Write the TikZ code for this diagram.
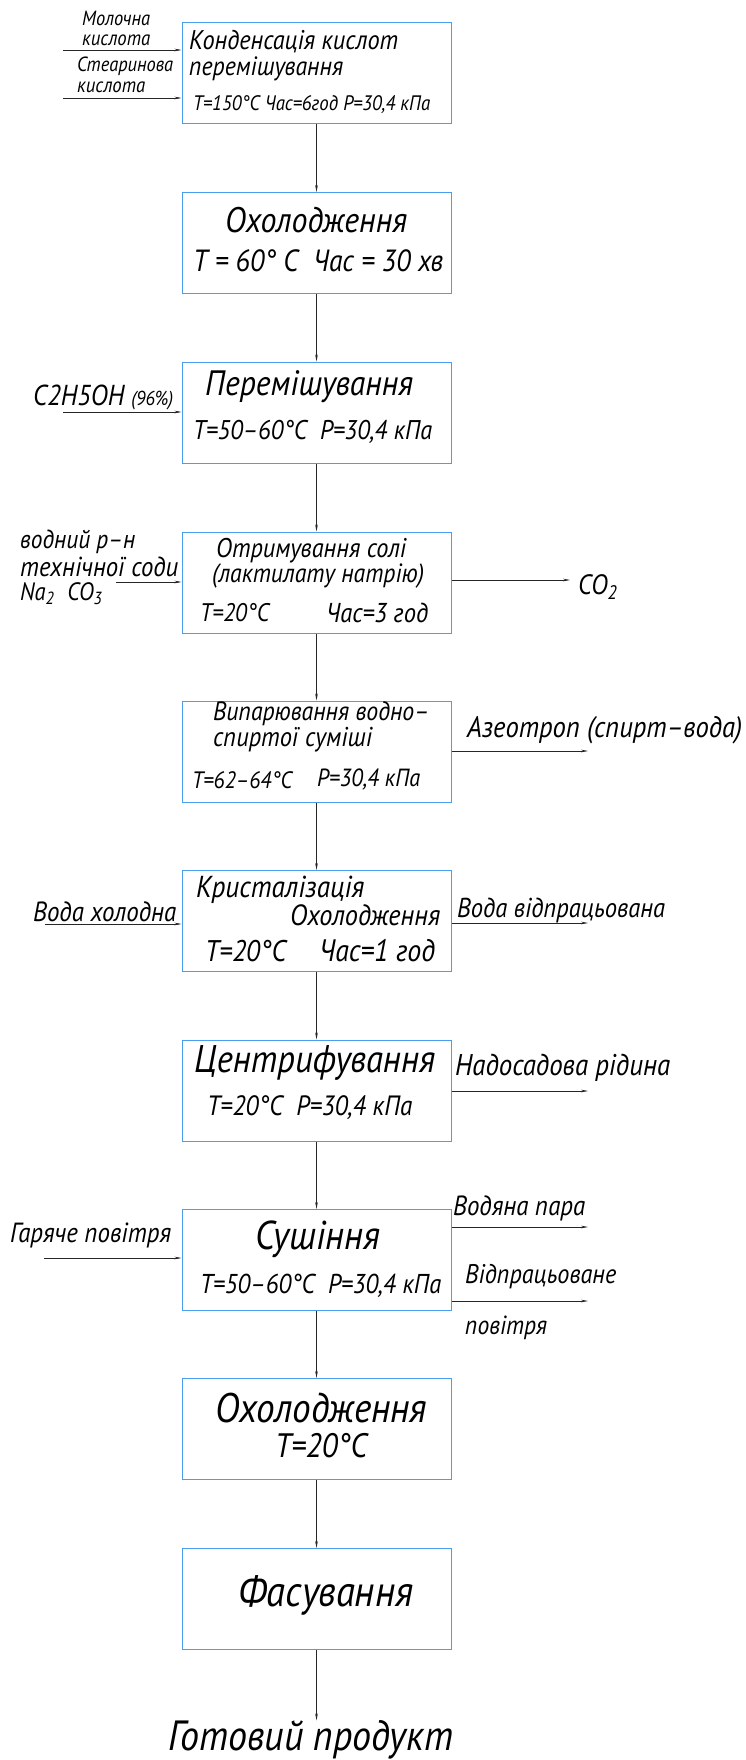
\documentclass[tikz,border=0pt]{standalone}
\usepackage{fontspec}
\setmainfont{PT Sans}[FakeStretch=0.9]
\usepackage{graphicx}
\usetikzlibrary{arrows.meta}
\definecolor{boxblue}{RGB}{74,158,238}
\newcommand{\tw}[2]{\resizebox{#1pt}{!}{\itshape #2}}
\begin{document}
\begin{tikzpicture}[x=1pt,y=-1pt,
  procbox/.style={draw=boxblue,line width=1pt,minimum width=269pt,minimum height=101pt,inner sep=0pt},
  flow/.style={draw=black!85,line width=0.6pt,-{Stealth[length=7pt,width=2.6pt]}},
  lbl/.style={anchor=west,inner sep=0pt,text=black}]
\useasboundingbox (0,0) rectangle (746,1760);

% boxes
\node[procbox] (b1) at (316.5,73) {};
\node[procbox] (b2) at (316.5,243) {};
\node[procbox] (b3) at (316.5,412.5) {};
\node[procbox] (b4) at (316.5,582.5) {};
\node[procbox] (b5) at (316.5,751.5) {};
\node[procbox] (b6) at (316.5,921) {};
\node[procbox] (b7) at (316.5,1090.5) {};
\node[procbox] (b8) at (316.5,1260) {};
\node[procbox] (b9) at (316.5,1429) {};
\node[procbox] (b10) at (316.5,1599) {};

% main flow
\draw[flow] (b1) -- (b2);
\draw[flow] (b2) -- (b3);
\draw[flow] (b3) -- (b4);
\draw[flow] (b4) -- (b5);
\draw[flow] (b5) -- (b6);
\draw[flow] (b6) -- (b7);
\draw[flow] (b7) -- (b8);
\draw[flow] (b8) -- (b9);
\draw[flow] (b9) -- (b10);
\node[lbl] (gp) at (168,1740) {\tw{285}{Готовий продукт}};
\draw[flow] (b10.south) -- (b10.south |- gp.north);

% box 1
\node[lbl] (l1a) at (82,18.5) {\tw{68}{Молочна}};
\node[lbl] (l1b) at (82,40) {\tw{68}{кислота}};
\node[lbl] (l1c) at (77,66.5) {\tw{96}{Стеаринова}};
\node[lbl] (l1d) at (77,87.5) {\tw{68}{кислота}};
\coordinate (i1a) at (63,50);
\coordinate (i1b) at (63,98);
\draw[flow] (i1a) -- (i1a -| b1.west);
\draw[flow] (i1b) -- (i1b -| b1.west);
\node[lbl] (t1a) at (189,42) {\tw{209}{Конденсація кислот}};
\node[lbl] (t1b) at (189,69) {\tw{154}{перемішування}};
\node[lbl] (t1c) at (193,105) {\tw{237}{T=150°C Час=6год P=30,4 кПа}};

% box 2
\node[lbl] (t2a) at (225,220) {\tw{182}{Охолодження}};
\node[lbl] (t2b) at (193,261) {\tw{250}{T = 60° C\ \ Час = 30 хв}};

% box 3
\node[lbl] (l3) at (33,397) {\tw{140}{C2H5OH {\scriptsize (96\%)}}};
\coordinate (i3) at (63,412);
\draw[flow] (i3) -- (i3 -| b3.west);
\node[lbl] (t3a) at (205,387) {\tw{208}{Перемішування}};
\node[lbl] (t3b) at (193,432) {\tw{239}{T=50–60°C\ \ P=30,4 кПа}};

% box 4
\node[lbl] (l4a) at (20,542) {\tw{115}{водний р–н}};
\node[lbl] (l4b) at (20,567) {\tw{158}{технічної соди}};
\node[lbl] (l4c) at (20,594) {\tw{83}{Na\textsubscript{2}\ \ CO\textsubscript{3}}};
\coordinate (i4) at (116,582);
\draw[flow] (i4) -- (i4 -| b4.west);
\node[lbl] (t4a) at (216,551) {\tw{190}{Отримування солі}};
\node[lbl] (t4b) at (212,576) {\tw{212}{(лактилату натрію)}};
\node[lbl] (t4c) at (200,613) {\tw{69}{T=20°C}};
\node[lbl] (t4d) at (326,613) {\tw{102}{Час=3 год}};
\coordinate (o4) at (570,580);
\draw[flow] (o4 -| b4.east) -- (o4);
\node[lbl] (r4) at (578,587) {\tw{40}{CO\textsubscript{2}}};

% box 5
\node[lbl] (t5a) at (213,713.5) {\tw{216}{Випарювання водно–}};
\node[lbl] (t5b) at (213,740) {\tw{159}{спиртої суміші}};
\node[lbl] (t5c) at (192,780) {\tw{100}{T=62–64°C}};
\node[lbl] (t5d) at (317,780) {\tw{103}{P=30,4 кПа}};
\coordinate (o5) at (588,751);
\draw[flow] (o5 -| b5.east) -- (o5);
\node[lbl] (r5) at (467,730) {\tw{275}{Азеотроп (спирт–вода)}};

% box 6
\node[lbl] (l6) at (33,912) {\tw{143}{Вода холодна}};
\coordinate (i6) at (45,924);
\draw[flow] (i6) -- (i6 -| b6.west);
\node[lbl] (t6a) at (196,890) {\tw{168}{Кристалізація}};
\node[lbl] (t6b) at (290,915) {\tw{150}{Охолодження}};
\node[lbl] (t6c) at (205,951) {\tw{81}{T=20°C}};
\node[lbl] (t6d) at (319,951) {\tw{116}{Час=1 год}};
\coordinate (o6) at (588,923);
\draw[flow] (o6 -| b6.east) -- (o6);
\node[lbl] (r6) at (457,910) {\tw{208}{Вода відпрацьована}};

% box 7
\node[lbl] (t7a) at (194,1063) {\tw{241}{Центрифування}};
\node[lbl] (t7b) at (207,1108) {\tw{205}{T=20°C\ \ P=30,4 кПа}};
\coordinate (o7) at (588,1091);
\draw[flow] (o7 -| b7.east) -- (o7);
\node[lbl] (r7) at (455,1068) {\tw{215}{Надосадова рідина}};

% box 8
\node[lbl] (l8) at (10,1235) {\tw{161}{Гаряче повітря}};
\coordinate (i8) at (44,1258);
\draw[flow] (i8) -- (i8 -| b8.west);
\node[lbl] (t8a) at (255,1239) {\tw{125}{Сушіння}};
\node[lbl] (t8b) at (200,1286) {\tw{241}{T=50–60°C\ \ P=30,4 кПа}};
\coordinate (o8a) at (588,1227);
\coordinate (o8b) at (588,1301);
\draw[flow] (o8a -| b8.east) -- (o8a);
\draw[flow] (o8b -| b8.east) -- (o8b);
\node[lbl] (r8a) at (453,1208) {\tw{132}{Водяна пара}};
\node[lbl] (r8b) at (465,1277) {\tw{151}{Відпрацьоване}};
\node[lbl] (r8c) at (465,1328) {\tw{82}{повітря}};

% box 9
\node[lbl] (t9a) at (215,1408) {\tw{212}{Охолодження}};
\node[lbl] (t9b) at (275,1446) {\tw{92}{T=20°C}};

% box 10
\node[lbl] (t10) at (238,1595) {\tw{175}{Фасування}};
\end{tikzpicture}
\end{document}
